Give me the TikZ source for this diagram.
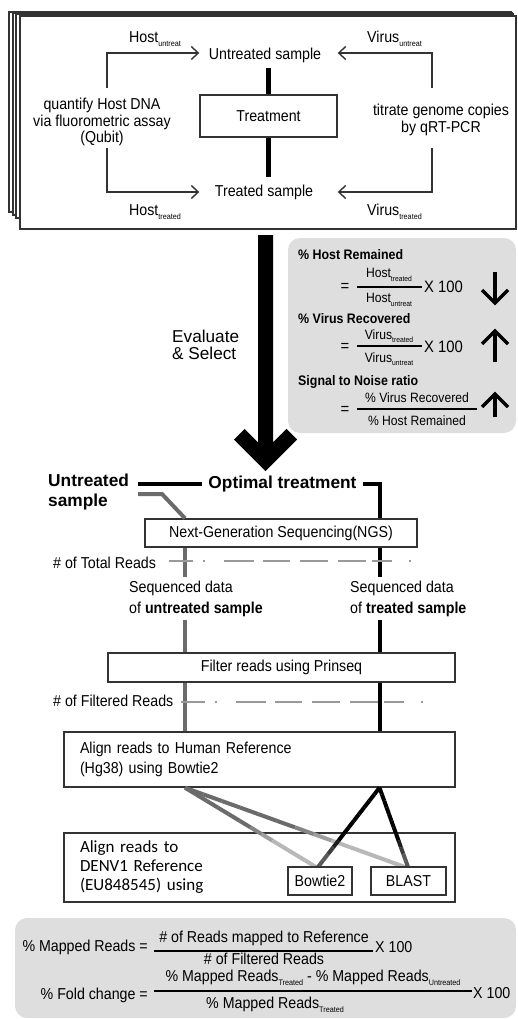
\documentclass[tikz,border=0pt]{standalone}
\usepackage{fontspec}
\setmainfont{Liberation Sans}[FakeStretch=0.9]
\newfontfamily\widefont{Liberation Sans}
\newfontfamily\carlfont{Carlito}
\usetikzlibrary{arrows.meta,calc}
\definecolor{panel}{gray}{0.87}
\definecolor{edge}{gray}{0.2}
\definecolor{gline}{gray}{0.42}
\definecolor{glight}{gray}{0.72}
\definecolor{bfade}{gray}{0.35}
\definecolor{dashc}{gray}{0.6}
\newcommand\sbs[1]{\raisebox{-4pt}{\fontsize{8pt}{8pt}\selectfont #1}}
\newcommand\sbx[1]{\raisebox{-3.5pt}{\fontsize{7.5pt}{7.5pt}\selectfont #1}}
\newcommand\gradseg[5]{%
  \foreach \ii in {0,...,11}{%
    \pgfmathsetmacro\gA{\ii/12}%
    \pgfmathsetmacro\gB{(\ii+1)/12}%
    \pgfmathtruncatemacro\gC{min(100,max(0,(\ii-#5)*34))}%
    \draw[line width=4pt, color={#4!\gC!#3}] ($(#1)!\gA!(#2)$) -- ($(#1)!\gB!(#2)$);
  }}
\tikzset{
  page/.style={draw=edge, line width=1.3pt, fill=white},
  txt/.style={inner sep=0pt, font=\fontsize{15.8pt}{16.5pt}\selectfont},
  box/.style={draw=edge, line width=1.4pt, fill=white, inner sep=0pt, font=\fontsize{15.8pt}{20pt}\selectfont},
  arr/.style={draw=edge, line width=1.4pt, -{Straight Barb[length=7pt,width=13pt]}},
  thk/.style={line width=5pt},
  blk/.style={line width=4pt, draw=black},
  gry/.style={line width=4pt, draw=gline},
  dsh/.style={line width=2pt, draw=dashc, dash pattern=on 24pt off 10pt on 2pt off 19pt on 30pt off 9pt on 27pt off 10pt on 28pt off 10pt on 28pt off 6pt on 20pt off 17pt on 2pt off 50pt},
  hdr/.style={inner sep=0pt, anchor=west, font=\fontsize{13.8pt}{15pt}\selectfont\bfseries},
  ftx/.style={inner sep=0pt, font=\fontsize{13.5pt}{15pt}\selectfont},
  eqx/.style={inner sep=0pt, font=\fontsize{16.5pt}{18pt}\selectfont},
  bar/.style={line width=1.3pt},
  bigb/.style={inner sep=0pt, font=\widefont\fontsize{17.3pt}{20pt}\selectfont\bfseries},
  updn/.style={line width=3.5pt},
  seq/.style={inner xsep=0pt, inner ysep=3pt, anchor=west, align=left, font=\fontsize{15.8pt}{21pt}\selectfont},
}
\begin{document}
\begin{tikzpicture}[x=1pt,y=-1pt]
\useasboundingbox (0,0) rectangle (517,1019);

% ---------- stacked pages ----------
\draw[page] (9,12) rectangle (511,212);
\draw[page] (13,13) rectangle (512,215);
\draw[page] (16,14) rectangle (513,218);
\draw[page] (20,16) rectangle (516,229);

% ---------- top panel ----------
\node[txt] (untr) at (265,55) {Untreated sample};
\node[txt] (trs) at (264,192) {Treated sample};
\node[box, minimum width=137pt, minimum height=42pt] (treat) at (268.5,116) {Treatment};
\draw[thk, shorten >=5.5pt] (treat.north) -- (treat.north |- untr.south);
\draw[thk, shorten >=7pt] (treat.south) -- (treat.south |- trs.north);

\node[txt, align=center] (qh) at (102,122) {quantify Host DNA\\via fluorometric assay\\(Qubit)};
\node[txt, align=center] (tg) at (441,120) {titrate genome copies\\by qRT-PCR};

\coordinate (hlt) at (107,88);
\coordinate (hlb) at (107,148);
\coordinate (vrt) at (432,88);
\coordinate (vrb) at (432,148);
\draw[arr] (hlt) |- (treat.west |- 0,53);
\draw[arr] (hlb) |- (treat.west |- trs.west);
\draw[arr] (vrt) |- (treat.east |- 0,53);
\draw[arr] (vrb) |- (treat.east |- trs.east);

\node[txt, anchor=base west] (hu) at (129,43) {Host\sbs{untreat}};
\node[txt, anchor=base west] (vu) at (367,43) {Virus\sbs{untreat}};
\node[txt, anchor=base west] (ht) at (129,215) {Host\sbs{treated}};
\node[txt, anchor=base west] (vt) at (367,215) {Virus\sbs{treated}};

% ---------- big arrow ----------
\fill[black] (258,235) -- (273,235) -- (273,442.3) -- (286.4,428.9) -- (297,439.5)
  -- (265.5,471) -- (234,439.5) -- (244.6,428.9) -- (258,442.3) -- cycle;
\node[inner sep=0pt, anchor=west, align=left, font=\widefont\fontsize{17.2pt}{16.5pt}\selectfont] (ev) at (172,345) {Evaluate\\\& Select};

% ---------- evaluation panel ----------
\fill[panel, rounded corners=12pt] (288,238) rectangle (516,433);
\node[hdr] (hr) at (298,255) {\% Host Remained};
\node[eqx] (e1) at (345,287) {=};
\node[ftx] (n1) at (389,275) {Host\sbx{treated}};
\node[ftx] (d1) at (389,300) {Host\sbx{untreat}};
\draw[bar] (357,287) -- (422,287);
\node[eqx, anchor=west] (x1) at (424,287) {X 100};
\draw[updn] (495,272) -- (495,302);
\draw[updn] (482,290) -- (495,303) -- (508,290);

\node[hdr] (vr) at (298,319) {\% Virus Recovered};
\node[eqx] (e2) at (345,347) {=};
\node[ftx] (n2) at (389,336) {Virus\sbx{treated}};
\node[ftx] (d2) at (389,359) {Virus\sbx{untreat}};
\draw[bar] (357,346) -- (422,346);
\node[eqx, anchor=west] (x2) at (424,347) {X 100};
\draw[updn] (495,362) -- (495,332);
\draw[updn] (482,344) -- (495,331) -- (508,344);

\node[hdr] (sn) at (298,382) {Signal to Noise ratio};
\node[eqx] (e3) at (345,410) {=};
\node[ftx] (n3) at (417,398) {\% Virus Recovered};
\node[ftx] (d3) at (417,421) {\% Host Remained};
\draw[bar] (357,409) -- (477,409);
\draw[updn] (495,417) -- (495,395);
\draw[updn] (482,407) -- (495,394) -- (508,407);

% ---------- NGS part ----------
\coordinate (uc) at (185,0);
\coordinate (tc) at (379.5,0);
\node[bigb, align=left, anchor=west] (ut) at (48,492) {Untreated\\sample};
\node[bigb, inner xsep=6pt] (ot) at (282.5,484) {Optimal treatment};
\node[box, minimum width=272pt, minimum height=28pt] (ngs) at (281,533) {Next-Generation Sequencing(NGS)};
\coordinate (ub) at (138,484);
\coordinate (ug) at (138,494);
\draw[blk] (ub) -- (ot.west);
\draw[blk] (ot.east) -| (tc |- ngs.north);
\draw[gry] (ug) -- ++(24,0) -- (uc |- ngs.north);

\node[txt, anchor=west] (tr) at (53,563) {\# of Total Reads};
\node[seq] (su) at (129,598.5) {Sequenced data\\of \textbf{untreated sample}};
\node[seq] (st) at (350,598.5) {Sequenced data\\of \textbf{treated sample}};
\node[box, minimum width=347pt, minimum height=29pt] (filt) at (281.5,667.5) {Filter reads using Prinseq};

\draw[gry] (uc |- ngs.south) -- (uc |- su.north);
\draw[blk] (tc |- ngs.south) -- (tc |- st.north);
\draw[gry] (uc |- su.south) -- (uc |- filt.north);
\draw[blk] (tc |- st.south) -- (tc |- filt.north);
\draw[dsh] ([xshift=13pt]tr.east |- 0,561) -- (ngs.east |- 0,561);

\node[txt, anchor=west] (fr) at (53,701) {\# of Filtered Reads};
\node[box, align=left, text width=359pt, inner xsep=16pt, minimum height=55pt] (hum) at (259.5,759.5) {Align reads to Human Reference\\(Hg38) using Bowtie2};
\draw[gry] (uc |- filt.south) -- (uc |- hum.north);
\draw[blk] (tc |- filt.south) -- (tc |- hum.north);
\draw[dsh] ([xshift=7pt]fr.east |- 0,702) -- ([xshift=-28pt]hum.east |- 0,702);

\node[box, align=left, text width=359pt, inner xsep=16pt, minimum height=69pt, font=\carlfont\fontsize{17pt}{19pt}\selectfont] (denv) at (259.5,867.5) {Align reads to\\DENV1 Reference\\(EU848545) using};

\coordinate (hu1) at (uc |- hum.south);
\coordinate (ht1) at (tc |- hum.south);
\coordinate (btg) at (316,867);
\coordinate (btb) at (318,867);
\coordinate (blg) at (405,867);
\coordinate (blb) at (408,867);
\gradseg{hu1}{btg}{gline}{glight}{5}
\gradseg{hu1}{blg}{gline}{glight}{5}
\gradseg{ht1}{btb}{black}{bfade}{7}
\gradseg{ht1}{blb}{black}{bfade}{7}

\node[box, minimum width=64pt, minimum height=28pt] (bt) at (320,881) {Bowtie2};
\node[box, minimum width=75pt, minimum height=28pt] (bl) at (408.5,881) {BLAST};

% ---------- bottom formulas ----------
\fill[panel, rounded corners=12pt] (15,918) rectangle (516,1018);
\node[txt, anchor=east] (mr) at (148,947) {\% Mapped Reads =};
\node[txt] (mn) at (264,938) {\# of Reads mapped to Reference};
\node[txt] (md) at (264,959) {\# of Filtered Reads};
\draw[bar] (154,951) -- (373,951);
\node[txt, anchor=west] (mx) at (375,947) {X 100};

\node[txt, anchor=east] (fc) at (148,995) {\% Fold change =};
\node[txt] (fn) at (313,978) {\% Mapped Reads\sbs{Treated} - \% Mapped Reads\sbs{Untreated}};
\draw[bar] (154,991) -- (472,991);
\node[txt] (fd) at (275,1005) {\% Mapped Reads\sbs{Treated}};
\node[txt, anchor=west] (fx) at (473,993) {X 100};
\end{tikzpicture}
\end{document}
